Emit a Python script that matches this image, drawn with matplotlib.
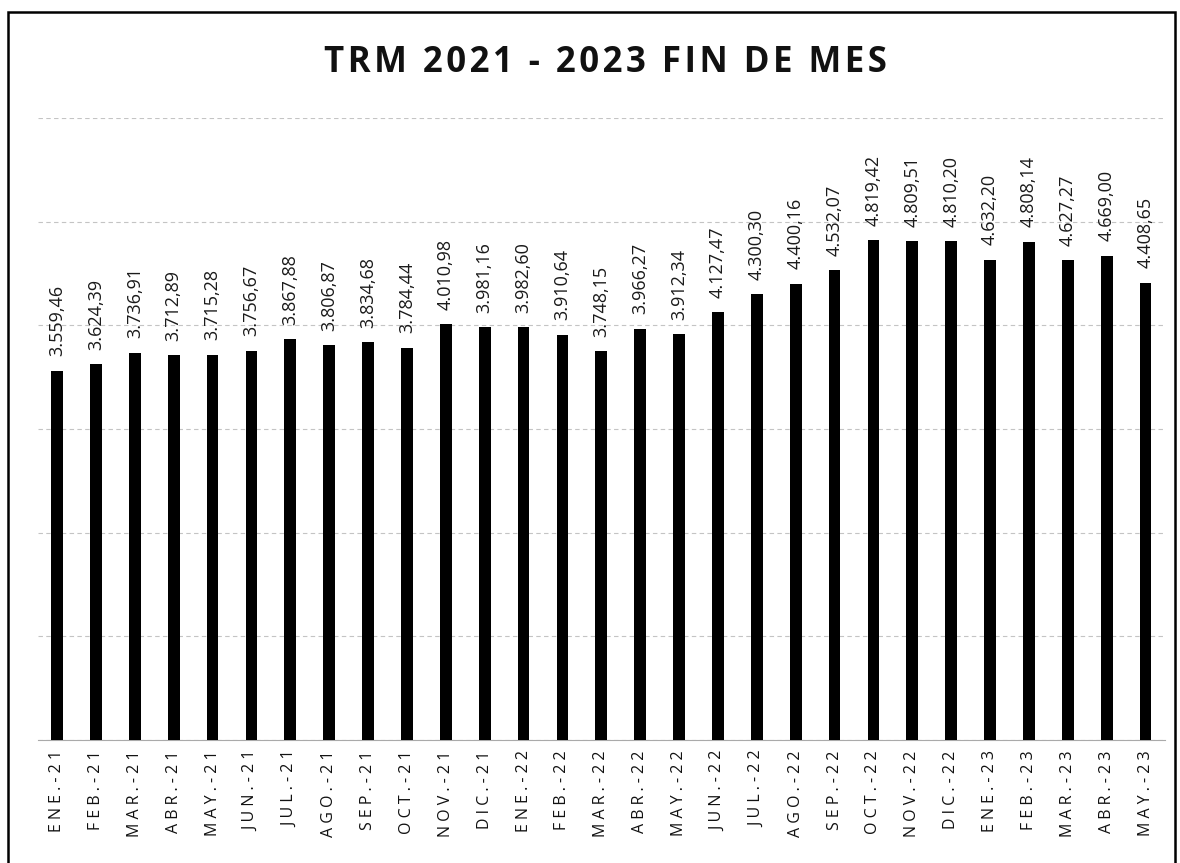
import numpy as np
import matplotlib.pyplot as plt
from matplotlib.patches import Rectangle

meses = ['ENE.-21', 'FEB.-21', 'MAR.-21', 'ABR.-21', 'MAY.-21', 'JUN.-21', 'JUL.-21',
         'AGO.-21', 'SEP.-21', 'OCT.-21', 'NOV.-21', 'DIC.-21', 'ENE.-22', 'FEB.-22',
         'MAR.-22', 'ABR.-22', 'MAY.-22', 'JUN.-22', 'JUL.-22', 'AGO.-22', 'SEP.-22',
         'OCT.-22', 'NOV.-22', 'DIC.-22', 'ENE.-23', 'FEB.-23', 'MAR.-23', 'ABR.-23',
         'MAY.-23']
trm = [3559.46, 3624.39, 3736.91, 3712.89, 3715.28, 3756.67, 3867.88,
       3806.87, 3834.68, 3784.44, 4010.98, 3981.16, 3982.60, 3910.64,
       3748.15, 3966.27, 3912.34, 4127.47, 4300.30, 4400.16, 4532.07,
       4819.42, 4809.51, 4810.20, 4632.20, 4808.14, 4627.27, 4669.00,
       4408.65]
titulo = 'TRM 2021 - 2023 FIN DE MES'

plt.rcParams['font.family'] = ['Open Sans', 'DejaVu Sans']

fig = plt.figure(figsize=(11.8, 8.63), dpi=100)
ax = fig.add_axes([0.0319, 0.1425, 0.9554, 0.7208])

x = np.arange(len(meses))
ax.bar(x, trm, width=0.3, color='black', zorder=3)

# etiquetas de valor: 3.559,46
def fmt(v):
    s = '{:,.2f}'.format(v)
    return s.replace(',', 'X').replace('.', ',').replace('X', '.')

def espaciar(s, sep=' '):
    return sep.join(s)

for i, v in zip(x, trm):
    ax.text(i, v + 140, fmt(v), rotation=90, ha='center', va='bottom',
            fontsize=13, color='#1a1a1a')

ax.set_xlim(-0.5, len(meses) - 0.5)
ax.set_ylim(0, 6000)
ax.set_yticks(np.arange(0, 6001, 1000))
ax.yaxis.grid(True, color='#c4c4c4', linestyle=(0, (4, 3)), linewidth=0.8, zorder=0)
ax.tick_params(axis='y', left=False, labelleft=False)
ax.tick_params(axis='x', bottom=False, pad=4)
ax.set_xticks(x)
ax.set_xticklabels([espaciar(m) for m in meses], rotation=90, fontsize=11.5,
                   color='#111111')
for s in ['top', 'right', 'left']:
    ax.spines[s].set_visible(False)
ax.spines['bottom'].set_color('#aaaaaa')
ax.spines['bottom'].set_linewidth(0.8)

fig.text(0.513, 0.927, espaciar(titulo, '\u200a'), ha='center', va='center',
         fontsize=25, fontweight='bold', color='#111111')

# marco exterior
fig.patches.append(Rectangle((0.007, -0.05), 0.989, 1.036, transform=fig.transFigure,
                             fill=False, edgecolor='black', linewidth=1.8))

plt.savefig('out.png', dpi=100)
